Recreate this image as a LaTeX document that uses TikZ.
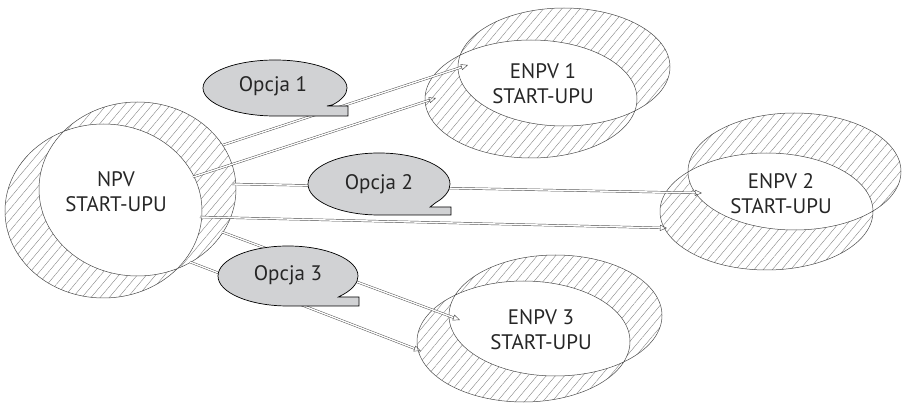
\documentclass[tikz,border=0pt]{standalone}
\usepackage{fontspec}
\setmainfont{PT Sans}
\usetikzlibrary{patterns.meta,arrows.meta,calc}
\definecolor{bubble}{HTML}{D1D2D4}
\definecolor{hatchc}{HTML}{7A7A7A}
\definecolor{linec}{HTML}{4A4A4A}
\tikzset{
  hatch/.style={pattern={Lines[angle=50,distance=7pt,line width=0.35pt]},pattern color=hatchc},
  ringline/.style={draw=linec,line width=0.5pt},
  ringtext/.style={align=center,font=\fontsize{21}{25}\selectfont,text=black!85,inner sep=0pt},
  bubtext/.style={font=\fontsize{21}{25}\selectfont,text=black!85,inner sep=0pt,anchor=base},
  bubshape/.style={fill=bubble,draw=black,line width=0.7pt,line join=miter},
  conn/.style={draw=linec,line width=0.45pt,double=white,double distance=1.4pt,-{Triangle[open,length=7pt,width=6pt]}},
}
\newcommand\myring[6]{%
  \fill[hatch,even odd rule] (#1+#5,#2-#6) ellipse[x radius=#3,y radius=#4] (#1-#5,#2+#6) ellipse[x radius=#3,y radius=#4];
  \draw[ringline] (#1+#5,#2-#6) ellipse[x radius=#3,y radius=#4] (#1-#5,#2+#6) ellipse[x radius=#3,y radius=#4];}
\newcommand\mybubble[5]{%
  \path[bubshape] (#1,#2+#4) arc[start angle=90,end angle=397,x radius=#3,y radius=#4] -- (#1+0.72*#3,#5) -- (#1+#3+1,#5) -- (#1+#3+1,#2+#4) -- cycle;}
\begin{document}
\begin{tikzpicture}[x=1pt,y=-1pt]
\useasboundingbox (0,0) rectangle (903,406);
\fill[white] (0,0) rectangle (903,406);
% rings
\myring{120.5}{200}{98.5}{87}{17}{11}
\myring{547.5}{83}{106}{59}{16.5}{16}
\myring{780.5}{191.5}{106.5}{58.5}{14}{20}
\myring{539.5}{328.5}{106.5}{60.5}{16}{13}
% ring labels
\node[ringtext] (npv) at (116,192) {NPV\\START-UPU};
\node[ringtext] (enpv1) at (543,84) {ENPV 1\\START-UPU};
\node[ringtext] (enpv2) at (781,194) {ENPV 2\\START-UPU};
\node[ringtext] (enpv3) at (541,330) {ENPV 3\\START-UPU};
% connector end points
\coordinate (s1a) at (223,145); \coordinate (e1a) at (468,65);
\coordinate (s1b) at (193,177); \coordinate (e1b) at (436,98);
\coordinate (s2a) at (232,184); \coordinate (e2a) at (702,193);
\coordinate (s2b) at (200,217); \coordinate (e2b) at (667,228);
\coordinate (s3a) at (222,232); \coordinate (e3a) at (460,320);
\coordinate (s3b) at (190,262); \coordinate (e3b) at (421,351);
\draw[conn] (s1a) -- (e1a);
\draw[conn] (s1b) -- (e1b);
\draw[conn] (s2a) -- (e2a);
\draw[conn] (s2b) -- (e2b);
\draw[conn] (s3a) -- (e3a);
\draw[conn] (s3b) -- (e3b);
% bubbles
\mybubble{275}{88}{72}{28}{106}
\mybubble{379}{184}{71}{31}{207}
\mybubble{288}{276}{70}{30}{297}
\node[bubtext] (op1) at (273,92) {Opcja 1};
\node[bubtext] (op2) at (379,190) {Opcja 2};
\node[bubtext] (op3) at (288,281) {Opcja 3};
\end{tikzpicture}
\end{document}
